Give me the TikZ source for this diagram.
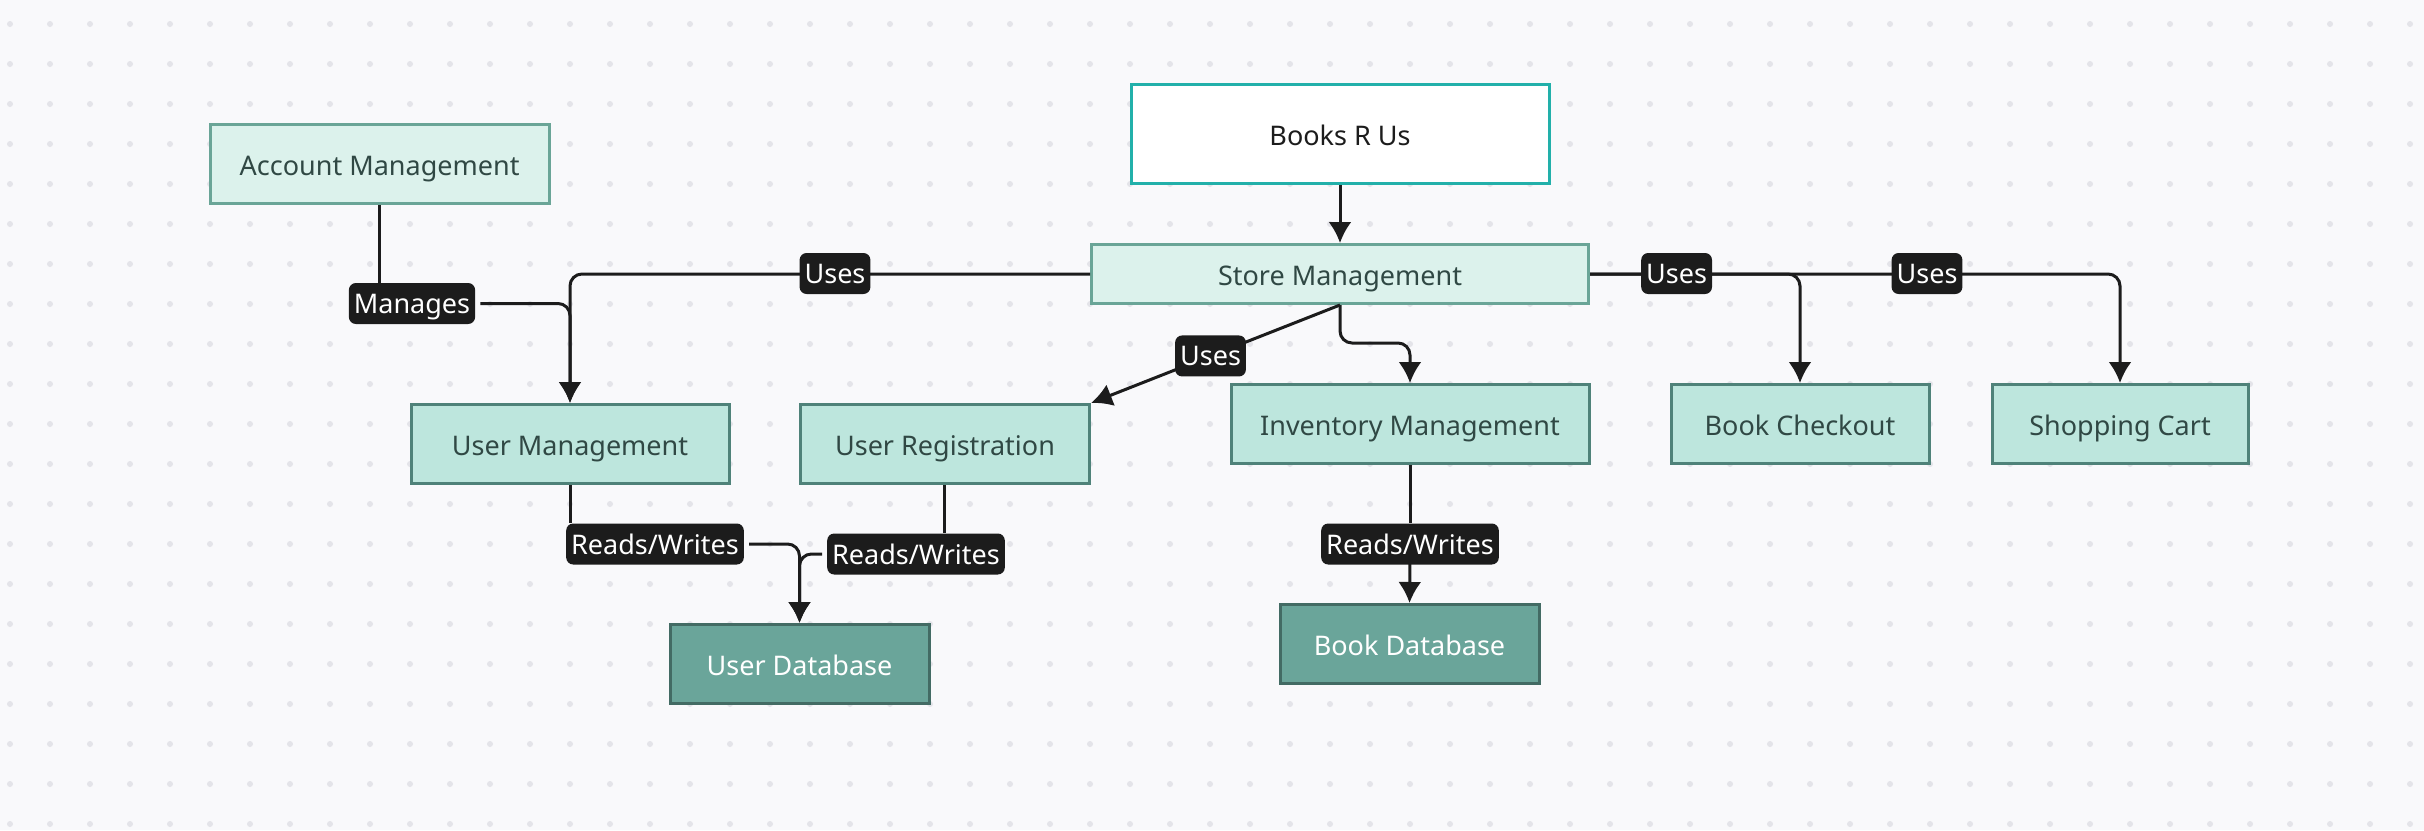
\documentclass[tikz,border=0pt]{standalone}
\usepackage{fontspec}
\setmainfont{Noto Sans}
\usetikzlibrary{arrows.meta}
\definecolor{bgc}{HTML}{F9F9FB}
\definecolor{dotc}{HTML}{E4E4E9}
\definecolor{rootb}{HTML}{22B0AA}
\definecolor{lightf}{HTML}{DCF2EC}
\definecolor{lightb}{HTML}{6AA597}
\definecolor{midf}{HTML}{BDE6DD}
\definecolor{midb}{HTML}{4F8279}
\definecolor{dbf}{HTML}{6AA59A}
\definecolor{dbb}{HTML}{436B64}
\definecolor{txt}{HTML}{304844}
\definecolor{ink}{HTML}{1C1C1C}
\tikzset{
  box/.style={draw, line width=3pt, inner sep=0pt, text height=25pt, text depth=3pt,
    font=\fontsize{27}{32}\selectfont},
  rootbox/.style={box, fill=white, draw=rootb, text=ink},
  lightbox/.style={box, fill=lightf, draw=lightb, text=txt},
  midbox/.style={box, fill=midf, draw=midb, text=txt},
  dbbox/.style={box, fill=dbf, draw=dbb, text=white},
  lbl/.style={fill=ink, text=white, rounded corners=7pt, inner xsep=5pt, inner ysep=0pt,
    text height=24pt, text depth=4pt, minimum height=41pt, font=\fontsize{27}{32}\selectfont},
  conn/.style={draw=ink, line width=3pt, rounded corners=12pt},
  arr/.style={conn, -{Latex[length=21pt,width=23pt]}}
}
\begin{document}
\begin{tikzpicture}[x=1pt,y=-1pt]
\useasboundingbox (0,0) rectangle (2424,830);
\fill[bgc] (0,0) rectangle (2424,830);
\foreach \i in {0,...,60} \foreach \j in {0,...,20} \fill[dotc] (10+40*\i, 24+40*\j) circle[radius=3pt];

% nodes
\node[lightbox, minimum width=339pt, minimum height=79pt] (am) at (379.6,164) {Account Management};
\node[rootbox, minimum width=418pt, minimum height=99pt] (root) at (1340,134) {Books R Us};
\node[lightbox, minimum width=497pt, minimum height=59pt] (sm) at (1340,274) {Store Management};
\node[midbox, minimum width=318pt, minimum height=79pt] (um) at (570,444) {User Management};
\node[midbox, minimum width=289pt, minimum height=79pt] (ur) at (945,444) {User Registration};
\node[midbox, minimum width=358pt, minimum height=79pt] (im) at (1410,424) {Inventory Management};
\node[midbox, minimum width=258pt, minimum height=79pt] (bc) at (1800,424) {Book Checkout};
\node[midbox, minimum width=256pt, minimum height=79pt] (sc) at (2120,424) {Shopping Cart};
\node[dbbox, minimum width=259pt, minimum height=79pt] (ud) at (799.5,664) {User Database};
\node[dbbox, minimum width=259pt, minimum height=79pt] (bd) at (1409.5,644) {Book Database};

% label positions
\coordinate (lUses1) at (835,273.5);
\coordinate (lMan) at (412,303.5);
\coordinate (lUses3) at (1676.6,273.5);
\coordinate (lUses4) at (1927,273.5);
\coordinate (lRW1) at (655,544);
\coordinate (lRW2) at (916,554);
\coordinate (lRW3) at (1410,544);

% connectors
\draw[arr] (root.south) -- (sm.north);
\draw[arr] (sm.west) -- (um.north |- sm.west) -- (um.north);
\draw[arr] (sm.south) -- (ur.north east) node[lbl, pos=0.52] (uses2) {Uses};
\draw[arr] (sm.south) -- ++(0,38) -| (im.north);
\draw[arr] (sm.east) -- (bc.north |- sm.east) -- (bc.north);
\draw[arr] (sm.east) -- (sc.north |- sm.east) -- (sc.north);

\node[lbl] (uses1) at (lUses1) {Uses};
\node[lbl] (uses3) at (lUses3) {Uses};
\node[lbl] (uses4) at (lUses4) {Uses};

\node[lbl] (man) at (lMan) {Manages};
\draw[conn] (am.south) -- (am.south |- man.north);
\draw[arr] ([xshift=5pt]man.east) -- (um.north |- man.east) -- (um.north);

\node[lbl] (rw1) at (lRW1) {Reads/Writes};
\node[lbl] (rw2) at (lRW2) {Reads/Writes};
\node[lbl] (rw3) at (lRW3) {Reads/Writes};
\draw[conn] (um.south) -- (um.south |- rw1.north);
\draw[arr] ([xshift=5pt]rw1.east) -- (ud.north |- rw1.east) -- (ud.north);
\draw[conn] ([xshift=-1pt]ur.south) -- ([xshift=-1pt]ur.south |- rw2.north);
\draw[arr] ([xshift=-5pt]rw2.west) -- (ud.north |- rw2.west) -- (ud.north);
\draw[conn] (im.south) -- (rw3.north);
\draw[arr] ([yshift=4pt]rw3.south) -- (bd.north);
\end{tikzpicture}
\end{document}
